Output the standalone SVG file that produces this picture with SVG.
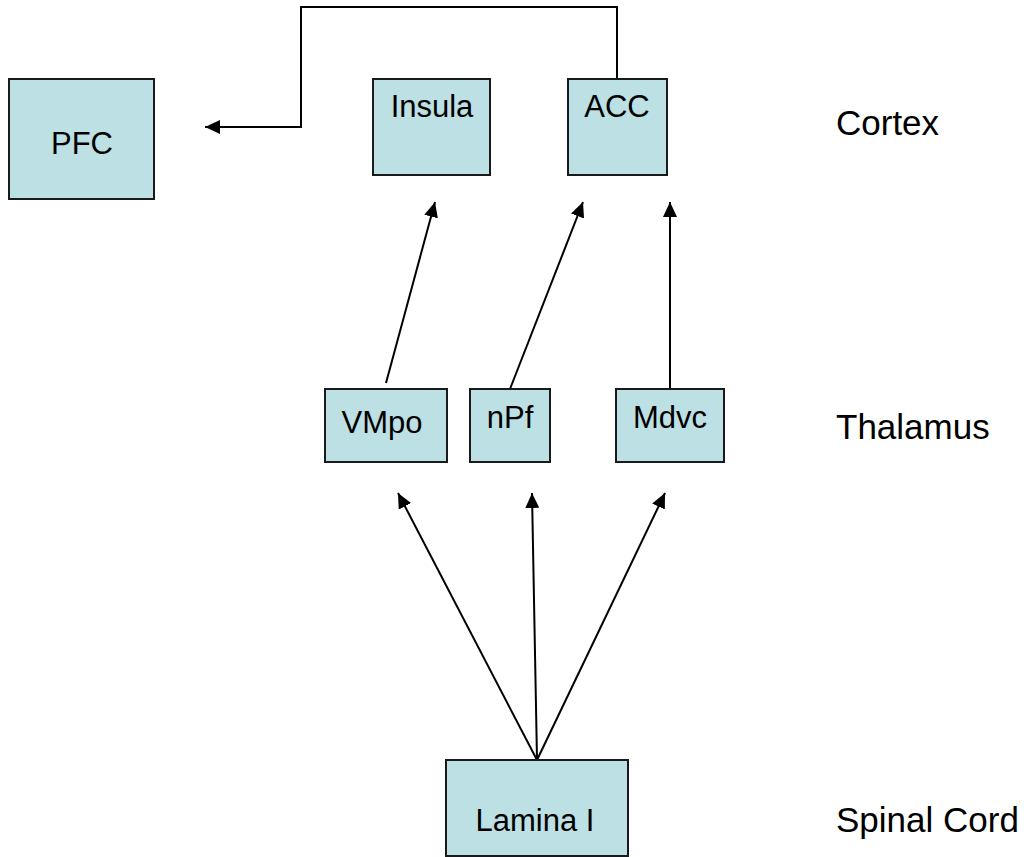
<svg xmlns="http://www.w3.org/2000/svg" width="1029" height="857" viewBox="0 0 1029 857">
  <style>
    .box { fill: #bce0e3; stroke: #1a1a1a; stroke-width: 2; }
    .lbl { font-family: "Liberation Sans", Arial, sans-serif; font-size: 31px; fill: #000; }
    .lvl { font-family: "Liberation Sans", Arial, sans-serif; font-size: 35px; fill: #000; }
    .mid { text-anchor: middle; }
    .edge { fill: none; stroke: #000; stroke-width: 2; }
  </style>
  <defs>
    <marker id="arrow" markerUnits="userSpaceOnUse" markerWidth="16" markerHeight="14" refX="15" refY="7" orient="auto">
      <path d="M0,0 L15,7 L0,14 Z" fill="#000"/>
    </marker>
  </defs>

  <rect width="1029" height="857" fill="#fff"/>

  <!-- Connectors -->
  <g id="connectors">
    <path class="edge" d="M617,79 V7 H301 V127 H205" marker-end="url(#arrow)"/>
    <line class="edge" x1="386" y1="383" x2="435" y2="202" marker-end="url(#arrow)"/>
    <line class="edge" x1="510" y1="389" x2="583" y2="202" marker-end="url(#arrow)"/>
    <line class="edge" x1="670" y1="389" x2="670" y2="202" marker-end="url(#arrow)"/>
    <line class="edge" x1="537" y1="760" x2="398" y2="493" marker-end="url(#arrow)"/>
    <line class="edge" x1="537" y1="760" x2="532" y2="493" marker-end="url(#arrow)"/>
    <line class="edge" x1="537" y1="760" x2="665" y2="493" marker-end="url(#arrow)"/>
  </g>

  <!-- Cortex -->
  <g id="pfc">
    <rect class="box" x="9" y="79" width="145" height="120"/>
    <text class="lbl mid" x="82" y="154">PFC</text>
  </g>
  <g id="insula">
    <rect class="box" x="373" y="79" width="117" height="96"/>
    <text class="lbl mid" x="432" y="117">Insula</text>
  </g>
  <g id="acc">
    <rect class="box" x="568" y="79" width="99" height="96"/>
    <text class="lbl mid" x="617" y="117">ACC</text>
  </g>

  <!-- Thalamus -->
  <g id="vmpo">
    <rect class="box" x="325" y="389" width="122" height="73"/>
    <text class="lbl mid" x="382" y="433">VMpo</text>
  </g>
  <g id="npf">
    <rect class="box" x="470" y="389" width="80" height="73"/>
    <text class="lbl mid" x="510" y="428">nPf</text>
  </g>
  <g id="mdvc">
    <rect class="box" x="616" y="389" width="108" height="73"/>
    <text class="lbl mid" x="670" y="428">Mdvc</text>
  </g>

  <!-- Spinal cord -->
  <g id="lamina">
    <rect class="box" x="446" y="760" width="182" height="96"/>
    <text class="lbl mid" x="535" y="831">Lamina I</text>
  </g>

  <!-- Level labels -->
  <g id="levels">
    <text class="lvl" x="836" y="135">Cortex</text>
    <text class="lvl" x="836" y="439">Thalamus</text>
    <text class="lvl" x="836" y="832">Spinal Cord</text>
  </g>
</svg>
